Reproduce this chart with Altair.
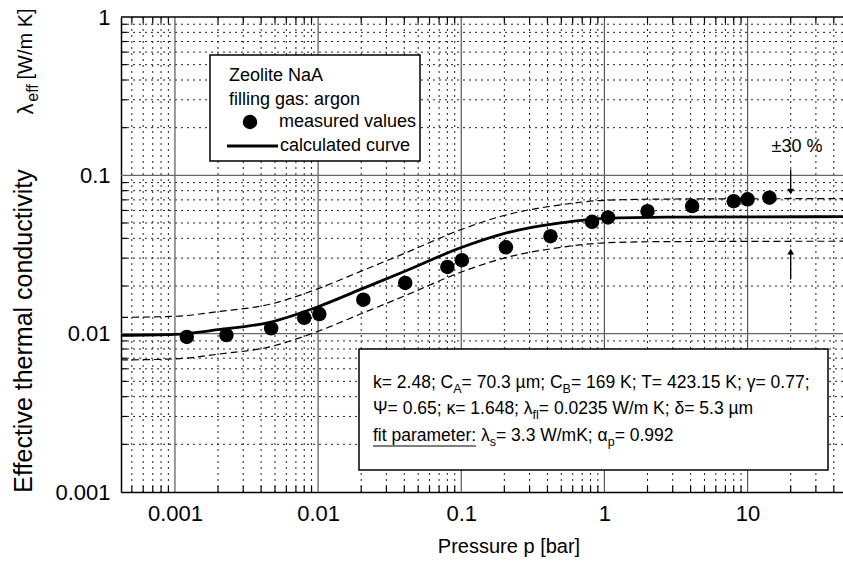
import altair as alt
import pandas as pd

# ---------------- data ----------------
p_meas = [0.00121, 0.00229, 0.0047, 0.0080, 0.0102, 0.0207, 0.0406, 0.080, 0.101,
          0.205, 0.42, 0.82, 1.06, 2.0, 4.1, 8.0, 10.0, 14.2]
lam_meas = [0.00953, 0.0098, 0.0108, 0.0126, 0.0133, 0.0164, 0.0209, 0.0264, 0.0291,
            0.0351, 0.0413, 0.0509, 0.0542, 0.0594, 0.0640, 0.0687, 0.0705, 0.0723]

p_curve = [0.00042, 0.001, 0.002, 0.0046, 0.01, 0.02, 0.04, 0.1, 0.19, 0.25, 0.42,
           1.0, 2.7, 46.4]
lam_curve = [0.00975, 0.0099, 0.0106, 0.0118, 0.0148, 0.0191, 0.0247, 0.0350, 0.0424,
             0.0451, 0.0490, 0.0535, 0.0545, 0.0548]

band_pct = 30  # +-30 % band around the calculated curve

x_ticks = [0.001, 0.01, 0.1, 1, 10]
y_ticks = [0.001, 0.01, 0.1, 1]
x_minor = [0.0005, 0.0006, 0.0007, 0.0008, 0.0009,
           0.002, 0.003, 0.004, 0.005, 0.006, 0.007, 0.008, 0.009,
           0.02, 0.03, 0.04, 0.05, 0.06, 0.07, 0.08, 0.09,
           0.2, 0.3, 0.4, 0.5, 0.6, 0.7, 0.8, 0.9,
           2, 3, 4, 5, 6, 7, 8, 9, 20, 30, 40]
y_minor = [0.002, 0.003, 0.004, 0.005, 0.006, 0.007, 0.008, 0.009,
           0.02, 0.03, 0.04, 0.05, 0.06, 0.07, 0.08, 0.09,
           0.2, 0.3, 0.4, 0.5, 0.6, 0.7, 0.8, 0.9]
x_major_grid = [0.001, 0.01, 0.1, 1, 10]
y_major_grid = [0.01, 0.1]

arrow_p = [20, 20]
arrow_from = [0.109, 0.022]
arrow_to = [0.079, 0.033]
arrow_shape = ["triangle-down", "triangle-up"]

# ---------------- layout ----------------
FONT = "Liberation Sans"
W, H = 722, 475
PL, PT = 121, 17

xscale = alt.Scale(type="log", domain=[0.00042, 46.4], nice=False)
yscale = alt.Scale(type="log", domain=[0.001, 1], nice=False)
xaxis = alt.Axis(values=x_ticks, format="~g", title=None, grid=False, ticks=False,
                 labelFontSize=22, labelFont=FONT, labelColor="black", labelPadding=11,
                 domainColor="black", domainWidth=1.5, labelOverlap=False, labelFlush=False)
yaxis = alt.Axis(values=y_ticks, format="~g", title=None, grid=False, ticks=False,
                 labelFontSize=22, labelFont=FONT, labelColor="black", labelPadding=11,
                 domainColor="black", domainWidth=1.5, labelOverlap=False)


def X(f):
    return alt.X(f, type="quantitative", scale=xscale, axis=xaxis)


def Y(f):
    return alt.Y(f, type="quantitative", scale=yscale, axis=yaxis)


one = pd.DataFrame({"a": [0]})
layers = []

# grid
layers.append(alt.Chart(pd.DataFrame({"p": x_minor})).mark_rule(
    color="#222", strokeWidth=1, strokeDash=[2, 4]).encode(x=X("p")))
layers.append(alt.Chart(pd.DataFrame({"l": y_minor})).mark_rule(
    color="#222", strokeWidth=1, strokeDash=[2, 4]).encode(y=Y("l")))
layers.append(alt.Chart(pd.DataFrame({"p": x_major_grid})).mark_rule(
    color="#555", strokeWidth=1.2).encode(x=X("p")))
layers.append(alt.Chart(pd.DataFrame({"l": y_major_grid})).mark_rule(
    color="#666", strokeWidth=1.2).encode(y=Y("l")))
# small inward ticks
layers.append(alt.Chart(pd.DataFrame({"l": y_minor})).mark_rule(
    color="black", strokeWidth=1.2).encode(y=Y("l"), x=alt.value(0), x2=alt.value(6)))
layers.append(alt.Chart(pd.DataFrame({"p": x_minor})).mark_rule(
    color="black", strokeWidth=1.2).encode(x=X("p"), y=alt.value(H), y2=alt.value(H - 6)))
layers.append(alt.Chart(pd.DataFrame({"p": x_minor})).mark_rule(
    color="black", strokeWidth=1.2).encode(x=X("p"), y=alt.value(0), y2=alt.value(6)))
# top frame line
layers.append(alt.Chart(one).mark_rule(color="black", strokeWidth=1.5).encode(
    x=alt.value(0), x2=alt.value(W), y=alt.value(0)))

curve_df = pd.DataFrame({"p": p_curve, "lam": lam_curve})
# +-30 % band
layers.append(alt.Chart(curve_df).transform_calculate(
    upper=f"datum.lam*(1+{band_pct}/100)", lower=f"datum.lam*(1-{band_pct}/100)"
).transform_fold(["upper", "lower"], as_=["band", "v"]).mark_line(
    color="black", strokeWidth=1.2, strokeDash=[7, 4], interpolate="monotone", clip=True
).encode(x=X("p"), y=Y("v:Q"), detail="band:N"))
# calculated curve
layers.append(alt.Chart(curve_df).mark_line(
    color="black", strokeWidth=2.8, interpolate="monotone", clip=True
).encode(x=X("p"), y=Y("lam")))
# measured values
layers.append(alt.Chart(pd.DataFrame({"p": p_meas, "lam": lam_meas})).mark_point(
    filled=True, color="black", size=210, opacity=1, shape="circle"
).encode(x=X("p"), y=Y("lam")))

# arrows for +-30 %
arr_df = pd.DataFrame({"p": arrow_p, "a": arrow_from, "b": arrow_to, "s": arrow_shape})
layers.append(alt.Chart(arr_df).mark_rule(color="black", strokeWidth=1.3).encode(
    x=X("p"), y=Y("a"), y2="b"))
layers.append(alt.Chart(arr_df).mark_point(filled=True, color="black", size=45, opacity=1).encode(
    x=X("p"), y=Y("b"), shape=alt.Shape("s:N", scale=None, legend=None)))


def text(s, x, y, size=17, align="left", baseline="middle", angle=0, font=FONT):
    kw = dict(text=s, align=align, baseline=baseline, fontSize=size, font=font, color="black")
    if angle:
        kw["angle"] = angle
    return alt.Chart(one).mark_text(**kw).encode(x=alt.value(x), y=alt.value(y))


def rect(x1, y1, x2, y2):
    return alt.Chart(one).mark_rect(fill="white", stroke="black", strokeWidth=1.5).encode(
        x=alt.value(x1), x2=alt.value(x2), y=alt.value(y1), y2=alt.value(y2))


# legend box
LEG = 18
layers.append(rect(210 - PL, 55 - PT, 420 - PL, 161 - PT))
layers.append(text("Zeolite NaA", 229 - PL, 76 - PT, size=LEG))
layers.append(text("filling gas: argon", 229 - PL, 100 - PT, size=LEG))
layers.append(alt.Chart(one).mark_point(filled=True, color="black", size=210, opacity=1).encode(
    x=alt.value(250 - PL), y=alt.value(122 - PT)))
layers.append(text("measured values", 279 - PL, 122 - PT, size=LEG))
layers.append(alt.Chart(one).mark_rule(color="black", strokeWidth=2.8).encode(
    x=alt.value(227 - PL), x2=alt.value(278 - PL), y=alt.value(146 - PT)))
layers.append(text("calculated curve", 280 - PL, 146 - PT, size=LEG))

# +-30 %
layers.append(text("±30 %", 797 - PL, 147 - PT, size=18, align="center"))

# parameter box
CW = {" ": 278, ".": 278, ";": 278, ":": 278, "=": 584, "/": 278, "%": 889,
      "A": 667, "B": 667, "C": 722, "K": 667, "T": 611, "W": 944,
      "a": 556, "c": 500, "e": 556, "f": 278, "i": 222, "l": 222, "k": 500, "m": 833,
      "p": 556, "r": 333, "s": 500, "t": 278, "µ": 576, "γ": 500, "Ψ": 834,
      "κ": 500, "λ": 500, "δ": 556, "α": 578}


def tw(s, size):
    return sum(CW.get(c, 556) for c in s) * size / 1000.0


layers.append(rect(359 - PL, 349 - PT, 828 - PL, 470 - PT))
MAIN, SUB = 17.5, 12.5
box_lines = [
    (383, [("k= 2.48; C", 0), ("A", 1), ("= 70.3 µm; C", 0), ("B", 1),
           ("= 169 K; T= 423.15 K; γ= 0.77;", 0)]),
    (409, [("Ψ= 0.65; κ= 1.648; λ", 0), ("fl", 1), ("= 0.0235 W/m K; δ= 5.3 µm", 0)]),
    (436, [("fit parameter:", 0), (" λ", 0), ("s", 1), ("= 3.3 W/mK; α", 0), ("p", 1),
           ("= 0.992", 0)]),
]
x0 = 373 - PL
for yc, segs in box_lines:
    xc = x0
    for s, sub in segs:
        size = SUB if sub else MAIN
        if s.startswith(" "):
            xc += tw(" ", size)
            s = s[1:]
        layers.append(text(s, xc, yc - PT + (6 if sub else 0), size=size))
        xc += tw(s, size)
ul_w = tw("fit parameter:", MAIN)
layers.append(alt.Chart(one).mark_rule(color="black", strokeWidth=1.2).encode(
    x=alt.value(x0), x2=alt.value(x0 + ul_w), y=alt.value(446 - PT)))

# axis titles
layers.append(text("Pressure p [bar]", 509 - PL, 547 - PT, size=20, align="center"))
layers.append(text("Effective thermal conductivity", 32 - PL, 331 - PT, size=25,
                   align="center", baseline="alphabetic", angle=270))
layers.append(text("λ", 33 - PL, 109 - PT, size=22, align="center",
                   baseline="alphabetic", angle=270))
layers.append(text("eff", 38 - PL, 93 - PT, size=16, align="center",
                   baseline="alphabetic", angle=270))
layers.append(text("[W/m K]", 32 - PL, 44 - PT, size=20, align="center",
                   baseline="alphabetic", angle=270))

chart = alt.layer(*layers).properties(
    width=W, height=H,
    padding={"left": PL, "top": PT, "right": 0, "bottom": 569 - PT - H},
    autosize="none", background="white",
).configure_view(stroke=None)

chart.save("out.html", embed_options={"renderer": "svg", "actions": False})
